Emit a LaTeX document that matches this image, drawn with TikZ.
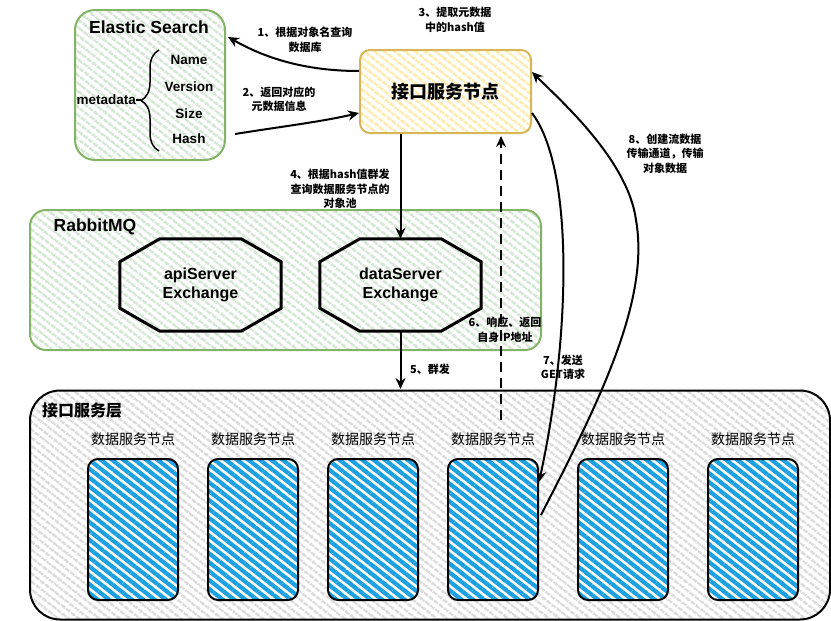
\documentclass[tikz,border=0pt]{standalone}
\usepackage{fontspec}
\setmainfont{Liberation Sans}
\newfontfamily\cjk{Noto Sans CJK SC}
\usetikzlibrary{arrows.meta,patterns.meta,decorations.pathreplacing,calc}
\definecolor{gfill}{HTML}{D5E8D4}
\definecolor{gline}{HTML}{82B366}
\definecolor{yfill}{HTML}{FFEAB0}
\definecolor{yline}{HTML}{D6B656}
\definecolor{bl}{HTML}{1BA1E2}
\definecolor{grh}{HTML}{DCDCDC}
\tikzset{
  hatchG/.style={pattern={Lines[angle=-38,distance=6.5pt,line width=3.2pt]},pattern color=gfill},
  hatchY/.style={pattern={Lines[angle=-38,distance=6.5pt,line width=3.2pt]},pattern color=yfill},
  hatchK/.style={pattern={Lines[angle=-38,distance=6.5pt,line width=3pt]},pattern color=grh},
  hatchB/.style={pattern={Lines[angle=-38,distance=7pt,line width=4.2pt]},pattern color=bl},
  greenbox/.style={draw=gline,line width=2pt,hatchG,inner sep=0pt},
  octo/.style={inner sep=0pt,minimum width=161pt,minimum height=92pt,align=center,font=\bfseries\fontsize{16}{19}\selectfont},
  datanode/.style={draw=black,line width=2pt,rounded corners=10pt,preaction={fill=white},hatchB,minimum width=90pt,minimum height=141pt,inner sep=0pt},
  dlabel/.style={font=\cjk\fontsize{14}{16}\selectfont,inner sep=0pt},
  lbl/.style={font=\cjk\bfseries\fontsize{11}{14.5}\selectfont,align=center,inner sep=0pt},
  meta/.style={font=\bfseries\fontsize{13.5}{16}\selectfont,inner sep=0pt},
  title/.style={font=\bfseries\fontsize{17.5}{20}\selectfont,inner sep=0pt},
  arr/.style={line width=2pt,-{Stealth[length=11pt,width=10pt]}},
}
\begin{document}
\begin{tikzpicture}[x=1pt,y=-1pt]
\useasboundingbox (0,0) rectangle (831,621);
% bottom layer
\node[draw=black,line width=2pt,rounded corners=30pt,hatchK,inner sep=0pt,minimum width=800pt,minimum height=229pt] (layer) at (430,505) {};
\node[font=\cjk\bfseries\fontsize{16}{18}\selectfont,inner sep=0pt] (layertitle) at (82,411) {接口服务层};
% RabbitMQ
\node[greenbox,rounded corners=16pt,minimum width=511pt,minimum height=140pt] (rabbit) at (285.5,280) {};
\node[title] (rabbittitle) at (95,227) {RabbitMQ};
% Elastic Search
\node[greenbox,rounded corners=20pt,minimum width=150pt,minimum height=150pt] (es) at (150,85) {};
\node[title] (estitle) at (149,27) {Elastic Search};
\node[meta] (mname) at (189,60) {Name};
\node[meta] (mver) at (189,87) {Version};
\node[meta] (msize) at (189,114) {Size};
\node[meta] (mhash) at (189,139) {Hash};
\node[meta,anchor=east] (meta) at (136,100) {metadata};
\draw[decorate,decoration={brace,amplitude=18pt},line width=1.5pt] (159,151) -- (159,50);
\coordinate (btip) at (141,100);
\draw[line width=1.5pt] (meta.east) -- (btip);
% service node
\node[draw=yline,line width=2pt,rounded corners=10pt,hatchY,minimum width=171pt,minimum height=83pt,inner sep=0pt,font=\cjk\bfseries\fontsize{18}{20}\selectfont] (svc) at (445.5,91.5) {接口服务节点};
% exchanges
\node[octo] (api) at (200.5,285) {apiServer\\Exchange};
\node[octo] (ds) at (400.5,285) {dataServer\\Exchange};
\foreach \n in {api,ds}{
  \draw[line width=3pt,line join=miter]
    ([xshift=40pt]\n.north west) -- ([xshift=-40pt]\n.north east) -- ([yshift=-23pt]\n.north east)
    -- ([yshift=23pt]\n.south east) -- ([xshift=-40pt]\n.south east) -- ([xshift=40pt]\n.south west)
    -- ([yshift=23pt]\n.south west) -- ([yshift=-23pt]\n.north west) -- cycle;
}
% data nodes
\foreach \i/\x in {1/133,2/253,3/373,4/493,5/623,6/753}{
  \node[datanode] (d\i) at (\x,529.5) {};
  \node[dlabel] (dl\i) at (\x,439) {数据服务节点};
}
% arrows
\draw[arr] ([yshift=20.5pt]svc.west) .. controls (305,71) and (265,58) .. ([xshift=2pt,yshift=48pt]es.east);
\coordinate (hashend) at (235,134);
\draw[arr] (hashend) .. controls (285,126) and (320,122) .. ([yshift=-21.5pt]svc.west);
\draw[arr] (ds.north |- svc.south) -- (ds.north);
\draw[arr] (ds.south) -- (ds.south |- layer.north);
\coordinate (resp) at (501,420);
\draw[line width=2.5pt,dash pattern=on 10pt off 6pt,-{Stealth[length=11pt,width=10pt]}] (resp) -- ([yshift=-2pt]resp |- svc.south);
\draw[arr] ([yshift=-21.5pt]svc.east) .. controls (575,170) and (570,340) .. ([yshift=47.5pt]d4.east);
\draw[arr] ([xshift=2pt,yshift=14.5pt]d4.east) .. controls (600,400) and (650,300) .. (636,220)
   .. controls (628,160) and (560,100) .. ([yshift=19.5pt]svc.east);
% labels
\node[lbl] (l1) at (305,40) {1、根据对象名查询\\数据库};
\node[lbl] (l2) at (279,99.5) {2、返回对应的\\元数据信息};
\node[lbl] (l3) at (455,20) {3、提取元数据\\中的hash值};
\node[lbl] (l4) at (340,189) {4、根据hash值群发\\查询数据服务节点的\\对象池};
\node[lbl] (l5) at (430,369) {5、群发};
\node[lbl] (l6) at (505,330) {6、响应、返回\\自身IP地址};
\node[lbl] (l7) at (563,367.5) {7、发送\\GET请求};
\node[lbl] (l8) at (665,153.5) {8、创建流数据\\传输通道，传输\\对象数据};
\end{tikzpicture}
\end{document}
